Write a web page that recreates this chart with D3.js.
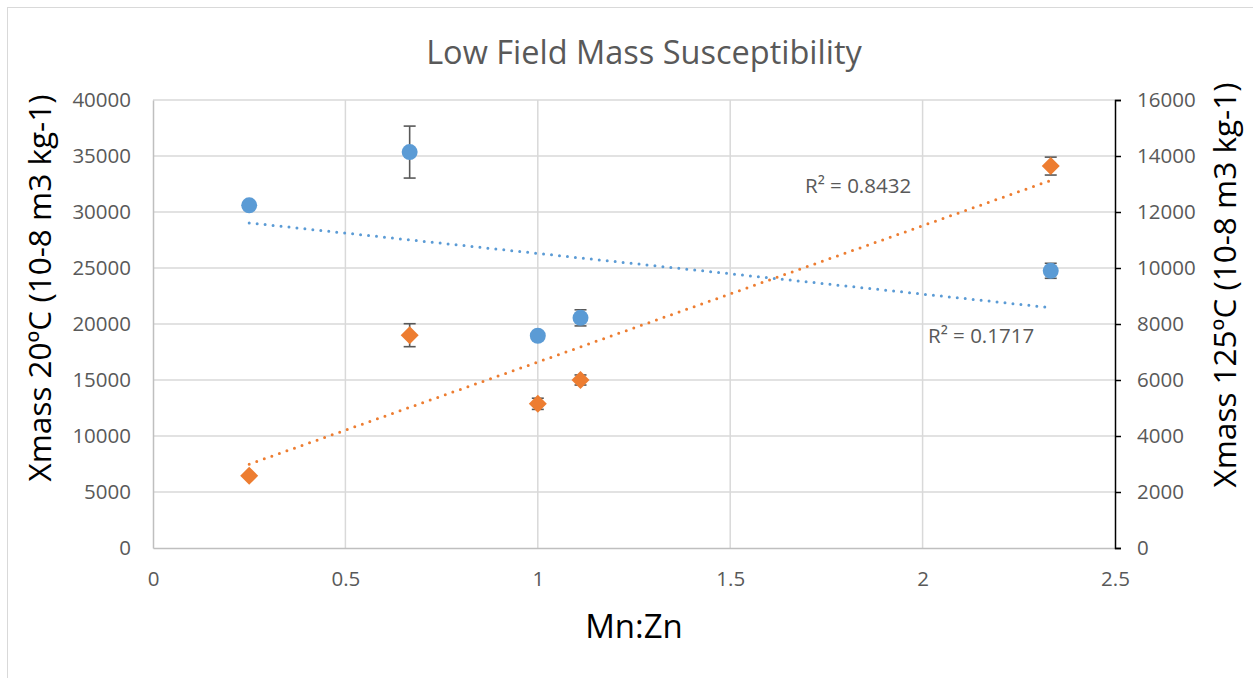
<!DOCTYPE html>
<html>
<head>
<meta charset="utf-8">
<script src="https://cdn.jsdelivr.net/npm/d3@7"></script>
<style>
  body { margin: 0; background: #fff; }
  text { font-family: "Open Sans", sans-serif; }
</style>
</head>
<body>
<svg width="1253" height="678"></svg>
<script>
// data
const mnZn = [0.25, 0.667, 1, 1.111, 2.333];
const xmass20 = [30600, 35350, 18950, 20550, 24750];
const err20 = [200, 2320, 200, 720, 670];
const xmass125 = [2580, 7600, 5150, 6000, 13640];
const err125 = [0, 410, 200, 180, 320];
const r2_20 = "R² = 0.1717";
const r2_125 = "R² = 0.8432";
const xTicks = [0, 0.5, 1, 1.5, 2, 2.5];
const leftTicks = [0, 5000, 10000, 15000, 20000, 25000, 30000, 35000, 40000];
const rightTicks = [0, 2000, 4000, 6000, 8000, 10000, 12000, 14000, 16000];

const svg = d3.select("svg"),
  margin = { top: 100, right: 138, bottom: 130, left: 153 },
  width = +svg.attr("width"),
  height = +svg.attr("height"),
  x = d3.scaleLinear().domain([0, 2.5]).range([margin.left, width - margin.right]),
  yL = d3.scaleLinear().domain([0, 40000]).range([height - margin.bottom, margin.top]),
  yR = d3.scaleLinear().domain([0, 16000]).range([height - margin.bottom, margin.top]);

const blue = "#5b9bd5", orange = "#ed7d31", grey = "#595959";

//chart border
svg.append("rect")
  .attr("x", 7.5).attr("y", 7.5)
  .attr("width", 1300).attr("height", 700)
  .attr("fill", "none").attr("stroke", "#d9d9d9");

//title
svg.append("text")
  .attr("x", (x(0) + x(2.5)) / 2 + 10).attr("y", 64)
  .attr("text-anchor", "middle")
  .attr("font-size", 32.5).attr("fill", grey)
  .text("Low Field Mass Susceptibility");

//grid
const grid = svg.append("g").attr("stroke", "#d9d9d9").attr("stroke-width", 1.5);
grid.selectAll(".h").data(leftTicks.slice(1)).join("line")
  .attr("x1", x(0)).attr("x2", x(2.5))
  .attr("y1", (d) => yL(d)).attr("y2", (d) => yL(d));
grid.selectAll(".v").data(xTicks.slice(1, -1)).join("line")
  .attr("y1", yL(0)).attr("y2", yL(40000))
  .attr("x1", (d) => x(d)).attr("x2", (d) => x(d));

//axes
const left = svg.append("g")
  .attr("transform", `translate(${x(0)},0)`)
  .call(d3.axisLeft(yL).tickValues(leftTicks).tickSize(0).tickPadding(22).tickFormat(d3.format("d")));
const bottom = svg.append("g")
  .attr("transform", `translate(0,${yL(0)})`)
  .call(d3.axisBottom(x).tickValues(xTicks).tickSize(0).tickPadding(23).tickFormat((d) => d));
const right = svg.append("g")
  .attr("transform", `translate(${x(2.5)},0)`)
  .call(d3.axisRight(yR).tickValues(rightTicks).tickSize(6).tickPadding(16).tickFormat(d3.format("d")));

[left, bottom].forEach((a) => {
  a.select(".domain").attr("stroke", "#bfbfbf").attr("stroke-width", 1.5);
});
right.select(".domain").attr("stroke", "#000").attr("stroke-width", 1.5);
right.selectAll(".tick line").attr("stroke", "#000").attr("stroke-width", 1.5);
[left, bottom, right].forEach((a) => {
  a.selectAll(".tick text")
    .attr("font-family", "Open Sans, sans-serif")
    .attr("font-size", 20.5).attr("fill", grey);
});
bottom.selectAll(".tick text").attr("dy", "0.71em");

//axis titles
svg.append("text")
  .attr("transform", `translate(51,${(yL(0) + yL(40000)) / 2 - 36}) rotate(-90)`)
  .attr("text-anchor", "middle").attr("font-size", 31.5).attr("fill", "#000")
  .text("Xmass 20ºC (10-8 m3 kg-1)");
svg.append("text")
  .attr("transform", `translate(1236,${(yL(0) + yL(40000)) / 2 - 39}) rotate(-90)`)
  .attr("text-anchor", "middle").attr("font-size", 31.5).attr("fill", "#000")
  .text("Xmass 125ºC (10-8 m3 kg-1)");
svg.append("text")
  .attr("x", (x(0) + x(2.5)) / 2).attr("y", 638)
  .attr("text-anchor", "middle").attr("font-size", 33).attr("fill", "#000")
  .text("Mn:Zn");

//linear trendline
const fit = (xs, ys) => {
  const mx = d3.mean(xs), my = d3.mean(ys);
  const slope = d3.sum(xs, (v, i) => (v - mx) * (ys[i] - my)) / d3.sum(xs, (v) => (v - mx) ** 2);
  return (v) => my + slope * (v - mx);
};
const x0 = d3.min(mnZn), x1 = d3.max(mnZn);
const f20 = fit(mnZn, xmass20), f125 = fit(mnZn, xmass125);
const trend = svg.append("g").attr("fill", "none").attr("stroke-width", 3)
  .attr("stroke-linecap", "round").attr("stroke-dasharray", "0,8");
trend.append("line").attr("stroke", blue)
  .attr("x1", x(x0)).attr("y1", yL(f20(x0))).attr("x2", x(x1)).attr("y2", yL(f20(x1)));
trend.append("line").attr("stroke", orange)
  .attr("x1", x(x0)).attr("y1", yR(f125(x0))).attr("x2", x(x1)).attr("y2", yR(f125(x1)));

//error bars + markers
const drawSeries = (ys, errs, y, mark) => {
  const g = svg.append("g");
  const eb = g.selectAll(".eb").data(mnZn.filter((d, i) => errs[i] > 0).map((d) => mnZn.indexOf(d))).join("g")
    .attr("stroke", grey).attr("stroke-width", 1.6);
  eb.append("line")
    .attr("x1", (i) => x(mnZn[i])).attr("x2", (i) => x(mnZn[i]))
    .attr("y1", (i) => y(ys[i] - errs[i])).attr("y2", (i) => y(ys[i] + errs[i]));
  [-1, 1].forEach((s) => {
    eb.append("line")
      .attr("x1", (i) => x(mnZn[i]) - 6).attr("x2", (i) => x(mnZn[i]) + 6)
      .attr("y1", (i) => y(ys[i] + s * errs[i])).attr("y2", (i) => y(ys[i] + s * errs[i]));
  });
  g.selectAll(".m").data(mnZn).join("path")
    .attr("transform", (d, i) => `translate(${x(d)},${y(ys[i])})`)
    .attr("d", mark.d).attr("fill", mark.c);
};
drawSeries(xmass20, err20, yL, { d: d3.symbol(d3.symbolCircle, 200)(), c: blue });
drawSeries(xmass125, err125, yR, { d: "M0,-9L9,0L0,9L-9,0Z", c: orange });

//R² labels
svg.append("text").attr("x", 805).attr("y", 193)
  .attr("font-size", 20.5).attr("fill", grey).text(r2_125);
svg.append("text").attr("x", 928).attr("y", 343)
  .attr("font-size", 20.5).attr("fill", grey).text(r2_20);
</script>
</body>
</html>
